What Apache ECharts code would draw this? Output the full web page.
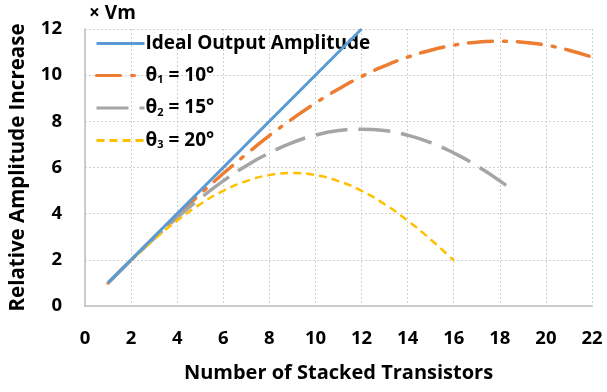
<!DOCTYPE html>
<html>
<head>
<meta charset="utf-8">
<script src="https://cdn.jsdelivr.net/npm/echarts@6/dist/echarts.min.js"></script>
<style>
html,body{margin:0;padding:0;background:#fff;}
#chart{width:607px;height:392px;}
</style>
</head>
<body>
<div id="chart"></div>
<script>
// Data
const xTicks = [0, 2, 4, 6, 8, 10, 12, 14, 16, 18, 20, 22];
const yTicks = [0, 2, 4, 6, 8, 10, 12];

const idealX = [1, 12];
const idealY = [1, 12];

const theta1X = [1,2,3,4,5,6,7,8,9,10,11,12,13,14,15,16,17,18,19,20,21,22];
const theta1Y = [1,1.99,2.97,3.92,4.85,5.74,6.58,7.38,8.11,8.79,9.40,9.94,10.40,10.78,11.08,11.30,11.43,11.47,11.43,11.30,11.08,10.78];

const theta2X = [1,2,3,4,5,6,7,8,9,10,11,12,13,14,15,16,17,18,18.6];
const theta2Y = [1,1.98,2.93,3.83,4.66,5.42,6.08,6.63,7.08,7.40,7.60,7.66,7.60,7.40,7.08,6.63,6.08,5.42,4.98];

const theta3X = [1,2,3,4,5,6,7,8,9,10,11,12,13,14,15,16];
const theta3Y = [1,1.97,2.88,3.70,4.41,4.99,5.41,5.67,5.76,5.67,5.41,4.99,4.41,3.70,2.88,1.97];

const seriesNames = ['Ideal Output Amplitude', 'θ1 = 10°', 'θ2 = 15°', 'θ3 = 20°'];
const xName = 'Number of Stacked Transistors';
const yName = 'Relative Amplitude Increase';
const unitLabel = '× Vm';

const pairs = (xs, ys) => xs.map((x, i) => [x, ys[i]]);
const FONT = 'Open Sans';

const chart = echarts.init(document.getElementById('chart'), null, {renderer: 'canvas'});
chart.setOption({
  animation: false,
  backgroundColor: '#fff',
  grid: {left: 85, right: 15, top: 29, bottom: 86, containLabel: false},
  xAxis: {
    type: 'value', min: xTicks[0], max: xTicks[xTicks.length - 1], interval: 2,
    name: xName, nameLocation: 'middle', nameGap: 57,
    nameTextStyle: {fontFamily: FONT, fontWeight: 'bold', fontSize: 20, color: '#000'},
    axisLine: {show: true, lineStyle: {color: '#bfbfbf', width: 1.5}},
    axisTick: {show: false},
    axisLabel: {margin: 23, fontFamily: FONT, fontWeight: 'bold', fontSize: 18.5, color: '#000'},
    splitLine: {show: true, lineStyle: {color: '#d0d0d0', type: [2, 2], width: 1}}
  },
  yAxis: {
    type: 'value', min: yTicks[0], max: yTicks[yTicks.length - 1], interval: 2,
    name: yName, nameLocation: 'middle', nameGap: 56,
    nameTextStyle: {fontFamily: FONT, fontWeight: 'bold', fontSize: 20.5, color: '#000'},
    axisLine: {show: true, lineStyle: {color: '#bfbfbf', width: 1.5}},
    axisTick: {show: false},
    axisLabel: {margin: 23, fontFamily: FONT, fontWeight: 'bold', fontSize: 18.5, color: '#000'},
    splitLine: {show: true, lineStyle: {color: '#d0d0d0', type: [2, 2], width: 1}}
  },
  legend: {
    left: 90, top: 29, orient: 'vertical',
    itemWidth: 48, itemHeight: 14, itemGap: 13,
    itemStyle: {opacity: 0},
    lineStyle: {width: 3},
    textStyle: {
      fontFamily: FONT, fontWeight: 'bold', fontSize: 19, color: '#000', padding: [0,0,0,-4],
      rich: {
        t: {fontFamily: FONT, fontWeight: 'bold', fontSize: 19, color: '#000'},
        s: {fontFamily: FONT, fontWeight: 'bold', fontSize: 11, color: '#000', verticalAlign: 'bottom', padding: [9,0,0,0]}
      }
    },
    formatter: function (name) {
      const m = name.match(/^θ(\d)(.*)$/);
      if (m) return '{t|θ}{s|' + m[1] + '}{t|' + m[2] + '}';
      return name;
    },
    data: seriesNames
  },
  graphic: [{
    type: 'text', left: 89, top: 4,
    style: {text: unitLabel, font: 'bold 19px "Open Sans"', fill: '#000'}
  }],
  series: [
    {name: seriesNames[0], type: 'line', data: pairs(idealX, idealY), showSymbol: false, symbol: 'none',
     lineStyle: {color: '#5B9BD5', width: 3}, itemStyle: {color: '#5B9BD5'}, z: 5},
    {name: seriesNames[1], type: 'line', data: pairs(theta1X, theta1Y), showSymbol: false, symbol: 'none', smooth: true,
     lineStyle: {color: '#ED7D31', width: 3.5, type: [24, 11, 3, 11], cap: 'round'}, itemStyle: {color: '#ED7D31'}},
    {name: seriesNames[2], type: 'line', data: pairs(theta2X, theta2Y), showSymbol: false, symbol: 'none', smooth: true,
     lineStyle: {color: '#A5A5A5', width: 3.5, type: [32, 11]}, itemStyle: {color: '#A5A5A5'}},
    {name: seriesNames[3], type: 'line', data: pairs(theta3X, theta3Y), showSymbol: false, symbol: 'none', smooth: true,
     lineStyle: {color: '#FFC000', width: 2.5, type: [8, 5]}, itemStyle: {color: '#FFC000'}}
  ]
});
</script>
</body>
</html>
